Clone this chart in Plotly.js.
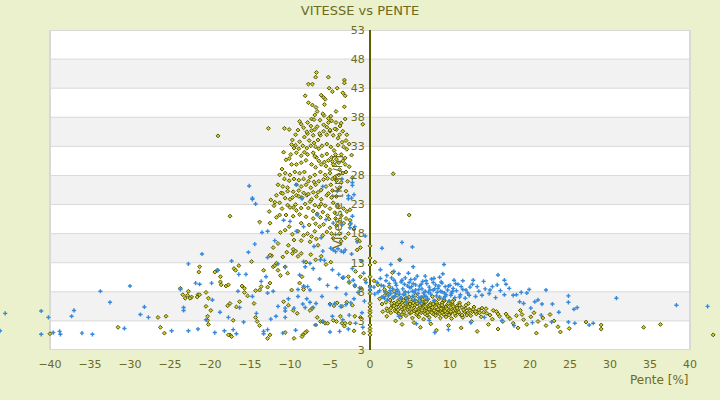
<!DOCTYPE html>
<html>
<head>
<meta charset="utf-8">
<script src="https://cdn.plot.ly/plotly-3.0.1.min.js"></script>
<style>
  body { margin: 0; background: #ebf0cd; }
  #chart { width: 720px; height: 400px; }
</style>
</head>
<body>
<div id="chart"></div>
<script>
// Vitesse [km/h] en fonction de la pente [%], deux séries

// axe vertical : graduations et libellés tels qu'affichés
const vitesseTicks = [-2, 3, 8, 13, 18, 23, 28, 33, 38, 43, 48, 53];
const vitesseLabels = ['3', '3', '8', '13', '18', '23', '28', '33', '38', '43', '48', '53'];
const penteTicks = [-40, -35, -30, -25, -20, -15, -10, -5, 0, 5, 10, 15, 20, 25, 30, 35, 40];

// série jaune : [pente, vitesse]
const jauneDescente = [
  [-6.7,45.7],[-6.8,44.9],[-5.2,44.9],[-7.7,43.7],[-7.2,43.7],[-3.2,44.4],[-3.2,43.9],[-5.1,43],
  [-4.7,42.4],[-4.1,43],[-3.4,42.2],[-3.1,41.7],[-8.1,41.7],[-6.1,41.8],[-5.8,41.4],[-5.6,41.1],
  [-5.7,40.2],[-7.7,40.5],[-7.2,40.1],[-3.2,39.8],[-4.25,39],[-6.75,39.7],[-6.6,39],[-6.9,38.4],
  [-5.75,38.3],[-5.2,37.8],[-4.8,37.4],[-3.1,37.7],[-3.6,37],[-0.9,36.8],[-12.7,36.1],[-10.7,36.1],
  [-10.1,35.9],[-8.6,36.8],[-7.8,37.1],[-7.3,37.7],[-7.4,36.5],[-6.9,35.9],[-6.25,37.5],[-5.8,36.7],
  [-5.2,37.1],[-5,35.6],[-4.25,37.1],[-3.75,36.5],[-19,34.8],[2.9,28.3],[4.9,21.2],
  [-9.0,35.8],[-9.3,35.0],[-9.7,34.1],[-9.8,33.3],[-9.3,33.2],[-8.8,33.8],[-8.2,34.6],[-7.8,35.2],
  [-7.3,35.7],[-7.1,34.9],[-7.6,34.0],[-7.0,33.6],[-6.5,34.1],[-6.2,34.9],[-5.8,35.6],[-5.4,35.0],
  [-5.0,35.8],[-4.6,34.9],[-4.2,35.9],[-3.8,35.0],[-3.4,35.6],[-2.9,35.0],[-6.8,32.9],[-6.4,32.6],
  [-6.0,33.1],[-5.4,33.4],[-4.9,32.9],[-4.5,32.3],[-4.0,33.2],[-3.3,32.9],[-2.9,32.5],[-10.8,32.0],
  [-9.9,31.6],[-9.2,31.9],[-8.6,31.4],[-8.2,32.0],[-7.8,31.6],[-7.1,31.9],[-6.7,31.1],[-6.0,31.4],
  [-5.4,31.7],[-4.8,31.1],[-4.2,30.8],[-3.6,31.6],[-3.1,31.0],[-10.5,30.7],[-9.8,29.9],[-9.2,29.9],
  [-8.6,30.2],[-8.0,30.6],[-7.3,29.9],[-6.8,29.4],[-6.1,29.9],[-5.5,29.6],[-5.0,29.0],[-4.6,29.9],
  [-3.8,29.0],[-3.1,29.9],[-11.3,28.1],[-10.6,28.4],[-10.0,28.1],[-9.4,28.6],[-8.8,28.4],[-8.2,28.6],
  [-7.5,27.7],[-6.9,28.1],[-6.2,28.6],[-5.6,28.1],[-5.0,28.4],[-4.4,27.7],[-3.4,28.4],[-11.5,26.4],
  [-10.9,26.1],[-10.3,25.9],[-9.2,26.4],[-8.6,26.1],[-8.0,26.4],[-7.4,25.9],[-6.8,26.4],[-6.1,25.5],
  [-5.5,26.1],[-4.9,26.4],[-3.8,25.9],[-3.0,25.3],[-11.7,24.6],[-11.1,25.0],[-9.7,24.2],[-9.2,24.6],
  [-8.5,24.2],[-7.9,24.6],[-7.3,23.9],[-6.7,24.4],[-6.1,23.9],[-5.4,24.6],[-4.8,24.2],[-4.2,24.4],
  [-12.4,23.8],[-11.9,23.4],[-11.3,23.3],[-10.6,24.1],[-10.3,22.9],[-10.0,23.9],[-9.6,22.5],[-9.3,23.0],
  [-8.9,24.4],[-8.6,22.4],[-8.1,23.1],[-7.7,22.4],[-7.5,23.5],[-7.1,21.9],[-6.9,22.9],[-6.6,21.4],
  [-6.4,22.6],[-6.1,23.1],[-5.9,21.7],[-5.6,22.8],[-5.3,21.1],[-5.0,22.3],[-4.6,23.3],[-4.4,21.6],
  [-4.0,22.8],[-3.6,21.1],[-3.3,22.3],[-2.9,21.8],[-2.5,22.1],[-2.5,20.3],[-12.6,21.8],[-11.3,21.2],
  [-10.5,21.2],[-13.8,20.0],[-17.5,21.0],[-11.2,18.2],[-10.6,18.6],[-10.1,19.2],[-9.7,17.9],[-9.5,16.9],
  [-9.0,18.4],[-8.6,16.8],[-8.3,17.7],[-7.8,18.0],[-7.5,16.6],[-7.3,17.5],[-6.9,18.4],[-6.7,17.1],
  [-6.5,16.0],[-6.3,19.2],[-5.9,17.7],[-5.4,18.3],[-5.0,19.0],[-4.6,17.2],[-4.2,19.4],[-3.8,18.0],
  [-3.3,19.8],[-2.5,19.6],[-2.0,18.8],[-1.6,17.0],[-1.3,16.7],[-1.2,15.6],[-1.6,15.2],[-1.8,11.5],
  [-1.2,10.6],[-2.7,10.6],[-4.9,13.1],[-5.5,12.7],[-6.1,14.1],[-6.8,13.5],[-7.4,14.4],[-8.0,13.1],
  [-8.6,14.6],[-9.6,15.3],[-10.4,14.8],[-10.2,16.0],[-11.5,16.3],[-12.1,15.6],[-12.5,19.8]
];

const jauneDescente2 = [
  [-8.8,37.3],[-8.3,36.2],[-7.9,35.5],[-7.0,37.6],[-6.6,36.4],[-6.3,35.2],[-5.9,38.6],[-5.4,36.3],
  [-4.9,38.2],[-4.4,36.0],[-4.0,34.4],[-3.5,33.7],[-3.0,34.0],[-2.6,33.4],[-2.3,31.5],[-2.6,29.5],
  [-2.2,27.6],[-2.8,27.0],[-3.6,26.8],[-4.2,27.1],[-4.7,25.4],[-5.2,24.9],[-5.8,27.3],[-6.4,27.0],
  [-7.0,26.9],[-7.7,27.0],[-8.3,27.4],[-8.9,27.2],[-9.5,27.4],[-10.1,27.1],[-10.7,27.4],[-11.0,29.1],
  [-10.1,30.9],[-9.5,32.7],[-8.9,32.6],[-8.4,33.1],[-7.9,32.7],[-7.4,33.1],[-6.9,31.3],[-6.4,30.5],
  [-5.7,30.3],[-5.2,30.6],[-4.7,30.4],[-4.3,31.6],[-3.9,30.2],[-3.4,30.5],[-3.0,28.6],[-3.9,28.1],
  [-4.7,27.4],[-5.3,27.5],[-6.5,25.1],[-7.1,25.1],[-7.7,24.8],[-8.3,25.0],[-8.9,25.4],[-9.6,25.2],
  [-10.3,25.3],[-10.9,24.9],[-6.2,20.8],[-7.1,20.6],[-8.0,20.9],[-8.8,21.3],[-9.6,21.0],[-5.1,20.5],
  [-4.3,20.6],[-3.8,20.0],[-3.0,20.6],[-6.8,19.7],[-7.6,19.5],[-8.6,19.8],[-5.8,19.6],[-4.8,18.0],
  [-3.6,16.7],[-3.1,17.3],[-2.7,18.0],[-9.2,22.0],[-10.0,22.5],[-11.0,22.3],[-11.7,20.8],[-12.0,22.8]
];

const jauneEparse = [
  [-23.7,8.6],[-23.4,7.5],[-23.1,6.9],[-22.3,7.1],[-21.5,7.5],[-21.3,7.5],[-21.4,11.4],[-21.3,12.3],
  [-20.5,7.9],[-20.2,6.9],[-20.3,3.8],[-20.3,3.1],[-20.2,2.4],[-19.4,11.4],[-19.1,11.7],[-18.7,10.6],
  [-18.7,9.7],[-18.6,9.2],[-18.0,9.0],[-17.7,9.2],[-17.8,5.6],[-17.5,6.0],[-17.0,12.0],[-16.8,11.7],
  [-16.4,12.5],[-16.3,6.3],[-16.0,9.0],[-15.7,8.6],[-15.3,7.3],[-14.8,13.2],[-14.5,6.0],[-14.3,3.6],
  [-14.1,2.9],[-13.8,2.2],[-13.8,8.3],[-13.3,11.7],[-12.8,8.8],[-12.3,14.2],[-12.5,14.3],[-12.1,12.3],
  [-11.9,12.5],[-11.7,12.9],[-11.5,11.7],[-11.2,10.8],[-10.9,14.0],[-10.6,12.3],[-10.3,11.2],[-9.8,8.3],
  [-9.7,14.6],[-9.3,15.0],[-9.0,14.1],[-8.8,9.5],[-8.5,10.6],[-8.3,8.7],[-8.3,8.4],[-7.9,1.2],
  [-8.1,1.0],[-8.4,0.6],[-8.5,0.3],[-9.5,0.0],[-10.6,1.0],[-12.5,0.6],[-12.8,0.0],[-17.5,0.6],
  [-17.7,0.6],[-17.3,0.3],[-17.1,3.1],[-19.9,4.8],[-20.5,5.5],[-16.7,5.4],[-15.7,7.9],[-14.3,8.2],
  [-13.6,8.9],[-12.5,9.5],[-10.8,6.3],[-10.2,5.7],[-9.6,4.8],[-9.1,4.3],[-7.5,4.8],[-7.2,5.2],
  [-6.6,3.6],[-6.2,2.9],[-5.6,2.6],[-5.3,2.6],[-4.6,3.1],[-4.2,2.9],[-3.5,2.6],[-3.1,2.6],
  [-3.7,3.8],[-2.5,2.6],[-1.9,3.8],[-5.0,5.9],[-4.5,5.6],[-4.1,6.1],[-3.5,5.5],[-2.9,6.2],
  [-2.2,5.7],[-3.2,2.1],[-2.0,1.3],[-6.8,2.3],[-5.9,2.9],[-1.2,3.6],[-0.8,0.9],[-3.4,10.4],
  [-2.6,9.6],[-1.9,9.0],[-1.1,8.6],[-0.6,10.1],[-40,0.8],[-31.5,1.9],[-26.5,3.6],[-25.5,3.8],
  [-26.2,1.9],[-25.7,0.9],[-22.7,8.1],[-22.8,7.4],[-22.5,6.9],[-21.6,7.1]
];

const jauneAxe = [
  [0,15.9],[0,13.8],[0,12.6],[0,10.6],[0,9.0],[0,8.3],[0,7.7],[0,6.0],[0,5.4],[0,4.8],
  [0,4.4],[0,3.8],[0,2.3],[0,1.7],[0,1.2],[0,0.6]
];

const jauneMontee = [
  [1.2,6.8],[1.5,5.9],[1.8,7.3],[2.0,6.2],[2.1,5.1],[2.3,7.6],[2.5,6.6],[2.6,4.4],[2.8,5.6],[2.9,7.0],
  [3.0,6.1],[3.1,4.8],[3.3,5.3],[3.4,7.4],[3.5,6.5],[3.6,4.2],[3.7,5.8],[3.8,3.6],[3.9,6.9],[4.0,5.0],
  [4.1,6.2],[4.2,4.5],[4.3,7.6],[4.4,5.5],[4.5,3.9],[4.6,6.6],[4.7,4.9],[4.8,5.9],[4.9,7.1],[5.0,4.3],
  [5.1,6.3],[5.2,5.2],[5.3,3.5],[5.4,6.8],[5.5,4.7],[5.6,5.7],[5.7,7.4],[5.8,4.1],[5.9,6.0],[6.0,5.0],
  [6.1,3.7],[6.2,6.5],[6.3,5.4],[6.4,4.4],[6.5,7.0],[6.6,5.8],[6.7,3.3],[6.8,4.8],[6.9,6.2],[7.0,5.2],
  [7.1,4.0],[7.2,6.7],[7.3,5.6],[7.4,3.6],[7.5,4.6],[7.6,6.0],[7.7,5.0],[7.8,7.2],[7.9,4.2],[8.0,5.5],
  [8.1,6.4],[8.2,3.9],[8.3,4.9],[8.4,5.9],[8.5,4.4],[8.6,6.8],[8.7,5.2],[8.8,3.5],[8.9,4.7],[9.0,6.1],
  [9.1,5.5],[9.2,4.1],[9.3,6.5],[9.4,5.0],[9.5,3.7],[9.6,4.5],[9.7,5.8],[9.8,4.9],[9.9,6.3],[10.0,4.2],
  [10.1,5.3],[10.2,3.4],[10.3,5.9],[10.4,4.7],[10.5,6.6],[10.6,5.1],[10.7,3.9],[10.8,4.4],[10.9,5.6],[11.0,4.9],
  [11.2,6.1],[11.3,4.1],[11.5,5.3],[11.6,3.6],[11.8,4.6],[12.0,5.7],[12.2,4.3],[12.4,5.0],[12.6,3.9],[12.8,4.6],
  [13.0,5.4],[13.3,4.2],[13.6,4.9],[13.9,3.7],[14.2,4.5],[14.5,5.1],[15.0,4.0],[15.3,3.3],[15.8,4.6],[16.2,3.8],
  [16.6,2.9],[17.0,4.2],[17.5,3.4],[17.9,2.6],[18.3,3.9],[18.8,4.8],[19.2,3.2],[19.6,2.4],[20.1,3.7],[20.5,4.4],
  [21.0,2.9],[21.6,3.5],[22.0,2.2],[22.5,4.1],[23.0,3.0],[23.5,2.0],[24.9,1.7],[27.0,2.8],[28.9,2.3],[28.9,1.6],
  [34.2,1.9],[36.3,2.4],[42.9,0.6],
  [3.2,3.0],[4.0,2.4],[5.5,2.7],[6.3,1.9],[7.6,2.5],[8.3,1.4],[9.8,2.2],[11.4,1.8],[12.7,2.9],[13.4,1.2],
  [14.8,2.4],[16.0,1.6],[18.5,1.8],[20.8,0.9],[23.8,1.1],[0.6,13.1],[2.8,11.3],[3.7,13.5],[0.5,9.9],[1.0,9.2],
  [1.8,8.4],[2.4,8.9],
  [3.3,4.6],[3.9,5.4],[4.4,6.0],[4.9,4.6],[5.3,5.6],[5.8,6.4],[6.1,4.6],[6.7,5.5],[7.0,6.3],[7.4,5.0],
  [7.9,5.9],[8.2,4.6],[8.6,5.6],[9.0,4.4],[9.5,5.4],[10.0,6.0],[10.4,5.5],[11.1,4.5],[5.0,5.9],[6.4,6.0],
  [7.7,4.4],[8.9,5.1],[9.9,4.0],[4.2,6.5],[3.4,5.9],[2.6,5.2],[6.9,4.2],[11.9,5.1],[12.5,4.8],[13.7,4.4]
];

const jauneMontee2 = [
  [2.2,4.7],[2.7,6.0],[3.0,5.6],[3.5,4.9],[3.6,6.2],[4.0,4.1],[4.3,5.2],[4.5,6.9],[4.8,5.4],[5.2,4.5],
  [5.4,6.1],[5.7,5.0],[5.9,4.4],[6.2,5.7],[6.5,4.8],[6.6,6.7],[6.9,5.5],[7.2,4.5],[7.5,5.7],[7.8,5.3],
  [8.0,4.8],[8.3,6.2],[8.5,5.0],[8.7,4.2],[9.0,5.7],[9.2,6.6],[9.4,4.7],[9.6,5.1],[9.8,6.0],[10.1,4.6],
  [10.3,6.3],[10.6,4.3],[10.9,5.2],[11.2,5.7],[11.5,4.0],[11.7,4.9],[12.1,4.0],[12.3,6.0],[12.9,5.0],[13.2,4.6],
  [14.0,5.2],[14.6,4.3],[15.4,4.8],[16.0,4.2],[17.2,3.8],[19.0,4.1],[2.0,7.9],[3.0,8.1],[2.1,3.8],[1.6,4.6]
];

// série bleue : [pente, vitesse]
const bleueGauche = [
  [-46.25,1.3],[-45.6,4.3],[-41.1,4.7],[-40.2,3.6],[-41.1,0.7],[-39.6,1.0],[-38.8,1.2],[-38.7,0.7],
  [-37.3,3.8],[-37,4.8],[-36,0.9],[-34.7,0.7],[-33.7,8.1],[-32.5,6.2],[-30,9],[-30.7,1.7],
  [-28.7,4.1],[-28.2,5.4],[-27.7,3.6],[-24.8,1.3],[-23.7,8.4],[-23.3,4.8],[-22.7,1.3],[-21.8,9.5],
  [-21.3,9.3],[-14.7,23.9],[-14.3,23.1],[-13.5,18.2],[-12.8,18.4],[-21,14.5],[-15.2,14.8],[-17.3,13.3],
  [-12.8,13.9],[-22.7,12.8],[-11.5,12.8],[-19.8,9.5],[-16.4,11],[-15.5,11],[-23.3,5.3],[-19.7,6.6],
  [-18.75,4.5],[-16.3,5.3],[-19.4,1.0],[-18.2,1.3],[-17.1,1.5],[-16.7,0.8],[-17.7,3.6],[-16.5,8.1],
  [-14.7,7.2],[-12.8,7.8],[-12.1,8.1],[-13.3,1.2],[-13.3,0.8],[-12.8,1.5],[-12.4,3.3],[-11.75,3.8],
  [-10.6,3.6],[-11.5,5.5],[-10.6,5.2],[-10.6,4.7],[-9.5,5.2],[-10.2,6.8],[-9,8.4],[-9,7.2],
  [-7.9,6.8],[-7.5,6.2],[-8.4,5.9],[-8.1,5.3],[-7.1,5.3],[-6.75,6],[-8.3,9],[-7.8,8.9],
  [-7.5,8.3],[-6,7.2],[-5,5.8],[-4.4,6.0],[-3.7,5.5],[-3.0,5.8],[-2.4,6.1],[-6.8,2.3],
  [-5.9,2.9],[-3.4,3.2],[-4.7,3.8],[-3.4,10.4],[-2.6,9.8],[-1.9,9.2],[-1.3,8.7],[-8.3,13.2],
  [-8.1,12.3],[-7.5,12.9],[-7.1,12],[-10.6,12.2],[-5.7,13.4],[-4.9,15.5],[-4.6,15.2],[-4.3,14.9],
  [-4.0,15.4],[-3.6,15.0],[-3.3,14.8],[-3.1,15.2],[-2.3,14.5],[-2.2,12],[-0.8,11.2],[-2.1,10],
  [-4.7,11.8],[-3.9,11.0],[-3.3,10.5],[-9.2,18.4],[-8.3,19.2],[-10,20.1],[-5.9,15],[-6.2,13.5],
  [-6.6,21.2],[-5.5,20.4],[-4.6,19.8],[-3.5,19.5],[-2.5,19],[-2.3,24.1],[-2.2,21],[-10.8,20.3],
  [-4.2,8.7],[-3.0,7.6],[-2.0,6.8],[-1.5,7.9],[-0.7,6.4],[-1.0,4.4],[-2.6,4.0],[-1.8,2.6],
  [-0.9,1.9],[-3.8,1.2],[-2.7,1.6],[-5.3,9.1],[-6.3,10.2],[-5.0,1.1],[-9.3,1.4],[-10.9,0.9],
  [-14.2,4.3],[-13.6,9.8],[-15.8,2.8],[-20.5,3.2],[-21.5,1.6],[-19.0,11.7],[-14.4,16.2],[-11.9,16.8],
  [-13.0,10.6],[-8.8,10.9],[-7.0,15.8],[-6.1,17.3],[-0.5,9.6],[-1.1,13.3],[-1.6,16.6],[-0.6,17.6],
  [-15.1,26.2],[-14.7,24.1],[-9.2,26.4],[-5.9,26.1],[-3.5,27.4],[-2.2,26.3],[-2.7,24.0],[-8.5,24.0],
  [-4.1,25.3],[-2.2,26.8],[-2.7,24.5],[-2.0,24.7],[-2.4,19.8],[-1.9,19.2],[0,8.8],[0,8.4]
];

const bleueDroite = [
  [0.5,8.8],[0.6,7.6],[0.9,9.6],[1.2,8.2],[1.3,10.3],[1.5,7.1],[1.7,9.0],[1.9,8.0],[2.1,10.8],[2.2,6.6],
  [2.4,9.4],[2.6,7.7],[2.8,8.6],[3.0,10.0],[3.1,7.2],[3.3,9.1],[3.5,8.1],[3.6,11.1],[3.8,6.9],[3.9,9.7],
  [4.1,8.5],[4.2,7.5],[4.4,10.4],[4.5,6.3],[4.7,9.0],[4.8,7.9],[5.0,8.7],[5.1,10.1],[5.3,7.2],[5.4,9.4],
  [5.6,6.6],[5.7,8.3],[5.9,10.7],[6.0,7.7],[6.2,9.0],[6.3,6.2],[6.5,8.5],[6.6,9.8],[6.8,7.3],[6.9,8.1],
  [7.1,9.4],[7.2,6.8],[7.4,8.8],[7.6,7.6],[7.7,10.2],[7.9,8.3],[8.0,6.5],[8.2,9.2],[8.4,7.9],[8.5,8.6],
  [8.7,7.1],[8.9,9.7],[9.0,8.0],[9.2,6.9],[9.4,8.9],[9.5,7.5],[9.7,8.3],[9.9,6.4],[10.0,9.1],[10.2,7.8],
  [10.4,8.6],[10.6,7.0],[10.8,8.2],[11.0,9.3],[11.3,7.5],[11.6,8.4],[11.9,6.9],[12.2,7.8],[12.5,8.8],[12.9,10.0],
  [13.2,7.2],[13.6,8.1],[14.0,7.4],[14.4,8.5],[14.9,7.7],[15.3,8.9],[15.7,7.0],[16.0,10.9],[16.3,8.2],[16.8,10.0],
  [16.8,7.5],[17.4,8.6],[17.9,7.4],[18.3,7.5],[18.7,6.3],[19.2,6.0],[19.6,7.8],[20.1,5.2],[20.6,6.3],[21.0,6.6],
  [21.5,5.9],[22.0,8.3],[22.7,2.8],[22.8,5.9],[23.6,4.5],[24.8,7.3],[24.8,6.2],[24.8,2.8],[25.5,5.0],[25.9,5.3],
  [25.6,2.6],[27.4,2.3],[27.9,2.6],[30.8,6.9],[38.3,5.7],[42.2,5.5],
  [1.5,15.5],[4.0,16.5],[5.3,15.7],[3.75,13.5],[2.6,12.7],[5.4,12.3],[9.25,12.7],[9.1,11.1],[8.7,10.5],[3.0,11.5],
  [1.3,11.8],[3.6,3.8],[7.4,3.1],[5.8,2.5],[8.1,1.0],[9.8,1.5],[12.6,2.7],[14.3,3.6],[16.5,3.1],[18.0,2.2],
  [20.3,2.7],[21.4,4.0],
  [2.3,7.3],[3.4,8.4],[4.6,7.0],[5.5,7.9],[6.4,7.1],[7.3,7.9],[8.1,8.5],[9.3,7.8],[5.2,8.9],[6.1,8.4],
  [7.0,7.2],[3.2,7.8],[4.3,9.3],[8.8,8.1],[10.1,7.4],[11.4,8.9]
];

const bleueDroite2 = [
  [1.0,7.9],[1.4,9.1],[1.8,6.9],[2.0,9.9],[2.5,8.2],[2.9,7.1],[3.2,9.5],[3.7,7.6],[4.0,10.0],[4.4,8.0],
  [4.9,9.6],[5.3,8.1],[5.7,9.2],[6.1,7.0],[6.4,9.3],[6.7,7.8],[7.0,9.9],[7.5,8.3],[7.9,9.6],[8.3,7.3],
  [8.6,9.0],[9.0,9.5],[9.4,7.2],[9.8,9.0],[10.3,8.1],[10.7,9.4],[11.2,7.1],[11.6,9.9],[12.0,8.3],[12.4,7.4],
  [12.8,9.3],[13.4,8.9],[14.2,9.8],[15.0,8.3],[15.9,9.2],[17.0,9.3],[18.9,7.9],[19.9,8.4],[2.7,10.4],[5.6,10.2],
  [8.0,10.3],[10.5,10.0],[6.9,10.7],[4.8,11.2]
];

const jaune = [...jauneDescente, ...jauneDescente2, ...jauneEparse, ...jauneAxe, ...jauneMontee, ...jauneMontee2];
const bleue = [...bleueGauche, ...bleueDroite, ...bleueDroite2];

const OLIVE = '#6b6b22';
const GRILLE = '#d9d9d9';
// zone de tracé blanche : de -40 à 40 en pente, la fenêtre montre un peu plus de chaque côté
const xMin = penteTicks[0], xMax = penteTicks[penteTicks.length - 1];
const yMin = vitesseTicks[0], yMax = vitesseTicks[vitesseTicks.length - 1];
const xVue = [-46.25, 43.75];

const traces = [
  {
    type: 'scatter', mode: 'markers', name: 'série 1',
    x: jaune.map(p => p[0]), y: jaune.map(p => p[1]),
    cliponaxis: false,
    marker: { symbol: 'diamond', size: 3, color: '#cfcf38', line: { color: '#555500', width: 1 } }
  },
  {
    type: 'scatter', mode: 'markers', name: 'série 2',
    x: bleue.map(p => p[0]), y: bleue.map(p => p[1]),
    cliponaxis: false,
    marker: { symbol: 'cross', size: 3.5, color: '#3589dc' }
  }
];

const shapes = [{
  type: 'rect', layer: 'below', xref: 'x', yref: 'y',
  x0: xMin, x1: xMax, y0: yMin, y1: yMax, fillcolor: '#ffffff', line: { width: 0 }
}];
// bandes grises alternées
for (let i = 1; i + 1 < vitesseTicks.length; i += 2) {
  shapes.push({
    type: 'rect', layer: 'below', xref: 'x', yref: 'y',
    x0: xMin, x1: xMax, y0: vitesseTicks[i], y1: vitesseTicks[i + 1],
    fillcolor: '#f2f2f2', line: { width: 0 }
  });
}
// lignes de grille horizontales
for (const v of vitesseTicks) {
  shapes.push({
    type: 'line', layer: 'below', xref: 'x', yref: 'y',
    x0: xMin, x1: xMax, y0: v, y1: v, line: { color: GRILLE, width: 1 }
  });
}
shapes.push({
  type: 'rect', layer: 'below', xref: 'x', yref: 'y',
  x0: xMin, x1: xMax, y0: yMin, y1: yMax, line: { color: GRILLE, width: 2 }
});

const layout = {
  width: 720, height: 400,
  paper_bgcolor: '#ebf0cd', plot_bgcolor: '#ebf0cd',
  margin: { l: 0, r: 0, t: 30, b: 50 },
  showlegend: false,
  font: { family: 'DejaVu Sans', color: OLIVE },
  title: { text: 'VITESSE vs PENTE', font: { size: 13, color: OLIVE }, x: 0.5, y: 0.975, yanchor: 'middle' },
  xaxis: {
    range: xVue, tickvals: penteTicks, showgrid: false,
    ticks: 'outside', ticklen: 4, tickcolor: 'rgba(0,0,0,0)',
    zeroline: true, zerolinecolor: '#5a5f00', zerolinewidth: 1.5,
    tickfont: { size: 11, color: OLIVE }
  },
  yaxis: {
    range: [yMin, yMax], tickvals: vitesseTicks, ticktext: vitesseLabels,
    anchor: 'free', position: (0 - xVue[0]) / (xVue[1] - xVue[0]),
    ticks: 'outside', ticklen: 3, tickcolor: 'rgba(0,0,0,0)',
    zeroline: false, showgrid: false,
    tickfont: { size: 11, color: OLIVE }
  },
  shapes: shapes,
  annotations: [
    {
      text: 'Pente [%]', xref: 'x', yref: 'paper', x: xMax, y: -0.095,
      xanchor: 'right', yanchor: 'middle', showarrow: false,
      font: { size: 12, color: OLIVE }
    },
    {
      // titre de l'axe vertical, posé contre les libellés de l'axe à pente 0
      text: 'Vitesse [km/h]', xref: 'x', yref: 'y', x: -4.1, y: 23.5,
      textangle: -90, showarrow: false,
      font: { size: 13, color: OLIVE }
    }
  ]
};

Plotly.newPlot('chart', traces, layout, { displayModeBar: false, staticPlot: true });
</script>
</body>
</html>
